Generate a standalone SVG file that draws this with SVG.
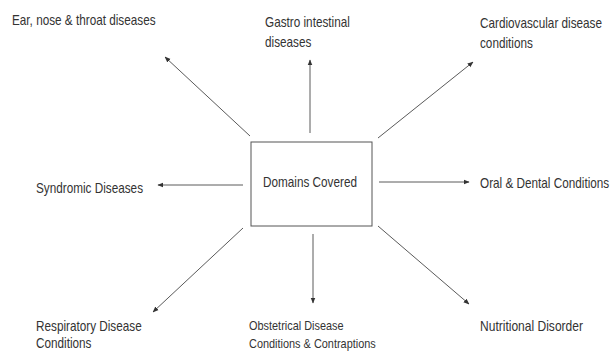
<svg xmlns="http://www.w3.org/2000/svg" width="614" height="352" viewBox="0 0 614 352">
  <defs>
    <marker id="ah" viewBox="0 0 10 10" refX="9" refY="5" markerWidth="6" markerHeight="6" markerUnits="userSpaceOnUse" orient="auto">
      <path d="M0,1 L10,5 L0,9 Z" fill="#333"/>
    </marker>
    <style>
      .t { font-family: "Liberation Sans", Arial, sans-serif; font-size: 14px; fill: #333333; }
      .s { font-size: 13px; }
      .c { stroke: #5a5a5a; stroke-width: 1; fill: none; marker-end: url(#ah); }
      .box { fill: #ffffff; stroke: #555; stroke-width: 1; }
    </style>
  </defs>
  <rect width="614" height="352" fill="#ffffff"/>

  <g id="connectors">
    <line class="c" x1="250" y1="136" x2="165" y2="57"/>
    <line class="c" x1="310" y1="133" x2="310" y2="60"/>
    <line class="c" x1="378" y1="138" x2="473" y2="62"/>
    <line class="c" x1="243" y1="185" x2="158" y2="185"/>
    <line class="c" x1="379" y1="182" x2="469" y2="182"/>
    <line class="c" x1="243" y1="228" x2="153" y2="312"/>
    <line class="c" x1="313" y1="234" x2="313" y2="303"/>
    <line class="c" x1="378" y1="226" x2="469" y2="304"/>
  </g>

  <g id="center">
    <rect class="box" x="251" y="142" width="121" height="84"/>
    <text class="t" transform="translate(263,187) scale(0.84,1)">Domains Covered</text>
  </g>

  <g id="ent">
    <text class="t" transform="translate(12,25) scale(0.84,1)">Ear, nose &amp; throat diseases</text>
  </g>

  <g id="gastro">
    <text class="t" transform="translate(265,27) scale(0.84,1)">Gastro intestinal</text>
    <text class="t" transform="translate(265,47) scale(0.84,1)">diseases</text>
  </g>

  <g id="cardio">
    <text class="t" transform="translate(480,28) scale(0.84,1)">Cardiovascular disease</text>
    <text class="t" transform="translate(480,48) scale(0.84,1)">conditions</text>
  </g>

  <g id="syndromic">
    <text class="t" transform="translate(36,193) scale(0.84,1)">Syndromic Diseases</text>
  </g>

  <g id="oral">
    <text class="t" transform="translate(480,188) scale(0.84,1)">Oral &amp; Dental Conditions</text>
  </g>

  <g id="respiratory">
    <text class="t" transform="translate(36,331) scale(0.84,1)">Respiratory Disease</text>
    <text class="t" transform="translate(36,348) scale(0.84,1)">Conditions</text>
  </g>

  <g id="obstetrical">
    <text class="t s" transform="translate(249,330) scale(0.84,1)">Obstetrical Disease</text>
    <text class="t s" transform="translate(249,348) scale(0.84,1)">Conditions &amp; Contraptions</text>
  </g>

  <g id="nutritional">
    <text class="t" transform="translate(480,331) scale(0.86,1)">Nutritional Disorder</text>
  </g>
</svg>
